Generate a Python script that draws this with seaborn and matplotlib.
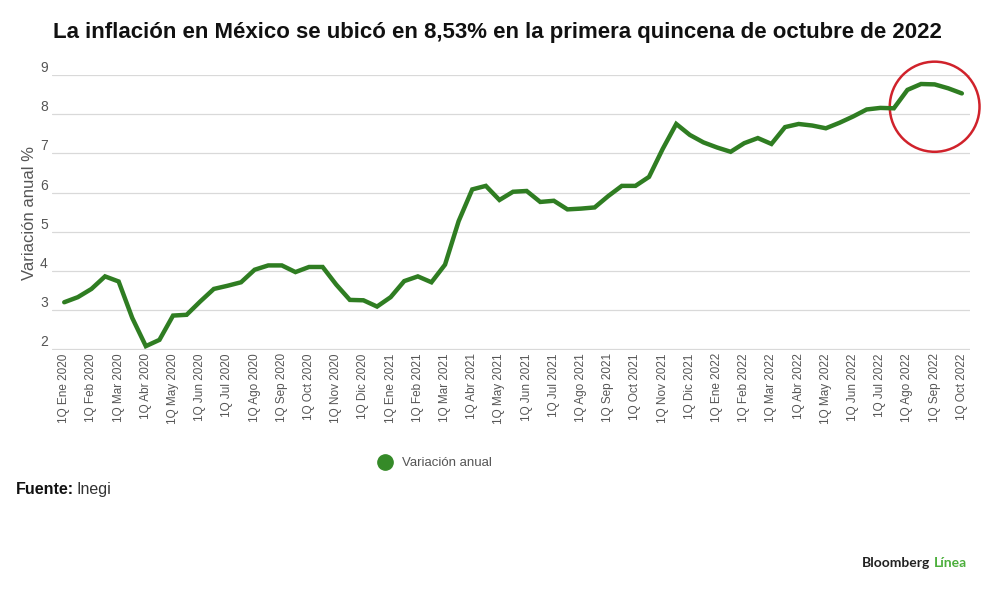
import matplotlib
matplotlib.use("Agg")
import matplotlib.pyplot as plt
from matplotlib.lines import Line2D
from matplotlib.patches import Ellipse
import numpy as np
import pandas as pd
import seaborn as sns

# monthly tick labels, biweekly data (1Q / 2Q)
meses = ["Ene", "Feb", "Mar", "Abr", "May", "Jun", "Jul", "Ago", "Sep", "Oct", "Nov", "Dic"]
anios = [2020, 2021, 2022]

inflacion = [3.20, 3.33, 3.54, 3.86, 3.73, 2.80, 2.08, 2.24, 2.86, 2.88,
             3.22, 3.54, 3.62, 3.71, 4.03, 4.14, 4.14, 3.97, 4.10, 4.10,
             3.65, 3.26, 3.25, 3.09, 3.33, 3.74, 3.86, 3.71, 4.16, 5.27,
             6.08, 6.17, 5.81, 6.02, 6.04, 5.76, 5.79, 5.57, 5.59, 5.62,
             5.91, 6.17, 6.17, 6.40, 7.11, 7.75, 7.47, 7.28, 7.15, 7.04,
             7.26, 7.39, 7.24, 7.67, 7.75, 7.71, 7.64, 7.78, 7.94, 8.12,
             8.16, 8.15, 8.62, 8.77, 8.76, 8.66, 8.53]

quincenas = []
for a in anios:
    for m in meses:
        quincenas.append(f"1Q {m} {a}")
        quincenas.append(f"2Q {m} {a}")
quincenas = quincenas[:len(inflacion)]

df = pd.DataFrame({"periodo": quincenas, "valor": inflacion})
df["idx"] = range(len(df))

verde = "#2f7d22"
gris = "#555555"

sns.set_theme(style="white")
plt.rcParams["font.family"] = ["Liberation Sans", "DejaVu Sans"]

fig = plt.figure(figsize=(10, 5.96), dpi=100)
ax = fig.add_axes([0.052, 0.412, 0.918, 0.4625])

sns.lineplot(data=df, x="idx", y="valor", color=verde, linewidth=3.2, ax=ax,
             solid_joinstyle="miter")

ax.set_xlim(-0.9, len(df) - 0.4)
ax.set_ylim(1.97, 9.005)
ax.set_yticks(range(2, 10))
ax.yaxis.grid(True, color="#d9d9d9", linewidth=0.9)
ax.xaxis.grid(False)
for s in ax.spines.values():
    s.set_visible(False)

ticks = df[df["periodo"].str.startswith("1Q")]
ax.set_xticks(ticks["idx"])
ax.set_xticklabels(ticks["periodo"], rotation=90, fontsize=8.5, color=gris)
ax.tick_params(axis="x", length=0, pad=2)
ax.tick_params(axis="y", length=0, pad=3, labelsize=10, labelcolor=gris)
for lab in ax.get_yticklabels():
    lab.set_verticalalignment("bottom")

ax.set_xlabel("")
ax.set_ylabel("Variación anual %", fontsize=12, color=gris, labelpad=2)

# highlight the latest readings
ax.add_patch(Ellipse((64, 8.19), 6.6, 2.3, fill=False, edgecolor="#d0222b",
                     linewidth=1.8, clip_on=False))

fig.text(0.497, 0.945, "La inflación en México se ubicó en 8,53% en la primera quincena de octubre de 2022",
         ha="center", va="center", fontsize=16, fontweight="bold", color="#111111")

handle = Line2D([], [], marker="o", linestyle="none", markersize=11,
                markerfacecolor="#358a28", markeredgecolor="#358a28")
fig.legend([handle], ["Variación anual"], loc="center", bbox_to_anchor=(0.432, 0.223),
           frameon=False, fontsize=9.5, handletextpad=0.3, labelcolor=gris)

fig.text(0.016, 0.178, "Fuente:", fontsize=11.5, fontweight="bold", color="#111111", va="center")
fig.text(0.077, 0.178, "Inegi", fontsize=11.5, color="#333333", va="center")

fig.text(0.930, 0.055, "Bloomberg", ha="right", va="center", fontsize=10,
         fontweight="bold", color="#222222", family=["Lato", "DejaVu Sans"])
fig.text(0.934, 0.055, "Línea", ha="left", va="center", fontsize=10,
         fontweight="bold", color="#4caf3c", family=["Lato", "DejaVu Sans"])

fig.savefig("out.png", dpi=100)
